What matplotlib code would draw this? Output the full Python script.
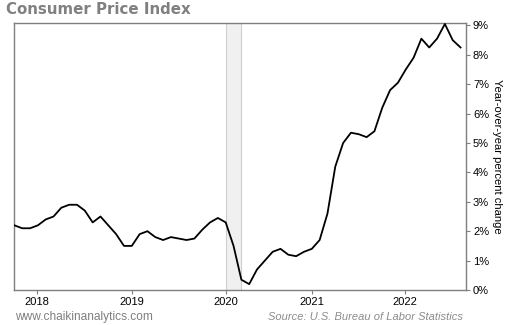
import numpy as np
import matplotlib.pyplot as plt
from matplotlib.ticker import FuncFormatter

# monthly CPI, year-over-year % change, Nov 2017 .. Aug 2022
months = ["2017-11", "2017-12",
          "2018-01", "2018-02", "2018-03", "2018-04", "2018-05", "2018-06",
          "2018-07", "2018-08", "2018-09", "2018-10", "2018-11", "2018-12",
          "2019-01", "2019-02", "2019-03", "2019-04", "2019-05", "2019-06",
          "2019-07", "2019-08", "2019-09", "2019-10", "2019-11", "2019-12",
          "2020-01", "2020-02", "2020-03", "2020-04", "2020-05", "2020-06",
          "2020-07", "2020-08", "2020-09", "2020-10", "2020-11", "2020-12",
          "2021-01", "2021-02", "2021-03", "2021-04", "2021-05", "2021-06",
          "2021-07", "2021-08", "2021-09", "2021-10", "2021-11", "2021-12",
          "2022-01", "2022-02", "2022-03", "2022-04", "2022-05", "2022-06",
          "2022-07", "2022-08"]
cpi_yoy = [2.2, 2.1,
           2.1, 2.2, 2.4, 2.5, 2.8, 2.9, 2.9, 2.7, 2.3, 2.5, 2.2, 1.9,
           1.5, 1.5, 1.9, 2.0, 1.8, 1.7, 1.8, 1.75, 1.7, 1.75, 2.05, 2.3,
           2.45, 2.3, 1.5, 0.35, 0.2, 0.7, 1.0, 1.3, 1.4, 1.2, 1.15, 1.3,
           1.4, 1.7, 2.6, 4.2, 5.0, 5.35, 5.3, 5.2, 5.4, 6.2, 6.8, 7.05,
           7.5, 7.9, 8.55, 8.25, 8.55, 9.05, 8.5, 8.25]

# recession shading (Feb 2020 - Apr 2020)
rec_start, rec_end = "2020-02", "2020-04"

year_labels = ["2018", "2019", "2020", "2021", "2022"]
year_pos = [2.9, 15.0, 27.0, 38.0, 49.9]

x = np.arange(len(months))
spine_col = "#7f7f7f"

plt.rcParams["font.family"] = ["Liberation Sans", "DejaVu Sans"]

fig = plt.figure(figsize=(5.1, 3.25), dpi=100)
ax = fig.add_axes([14 / 510, 1 - 290 / 325, 452 / 510, 267.5 / 325])

ax.axvspan(months.index(rec_start), months.index(rec_end),
           facecolor="#f0f0f0", edgecolor="#cfcfcf", lw=0.8, zorder=1)
ax.plot(x, cpi_yoy, color="black", lw=1.3, zorder=3)

ax.set_xlim(-0.05, 57.7)
ax.set_ylim(0, 9.1)

for s in ax.spines.values():
    s.set_color(spine_col)
    s.set_linewidth(1.0)

ax.yaxis.tick_right()
ax.yaxis.set_label_position("right")
ax.set_yticks(range(0, 10))
ax.yaxis.set_major_formatter(FuncFormatter(lambda v, p: f"{v:.0f}%"))
ax.set_xticks(year_pos)
ax.set_xticklabels(year_labels)
ax.tick_params(axis="both", colors=spine_col, labelcolor="black",
               labelsize=8, length=3, width=0.8, direction="out")
ax.tick_params(axis="y", pad=2)
ax.tick_params(axis="x", pad=2)
ax.set_ylabel("Year-over-year percent change", rotation=270,
              fontsize=8, labelpad=9)

fig.text(6 / 510, 1 - 10 / 325, "Consumer Price Index", family="DejaVu Sans",
         fontweight="bold", fontsize=10.8, color="#808080", va="center")
fig.text(15 / 510, 1 - 317 / 325, "www.chaikinanalytics.com", fontsize=8.6,
         color="#7f7f7f", va="center")
fig.text(463 / 510, 1 - 317 / 325, "Source: U.S. Bureau of Labor Statistics",
         fontsize=8, color="#8c8c8c", style="italic", va="center", ha="right")

fig.savefig("out.png", dpi=100)
